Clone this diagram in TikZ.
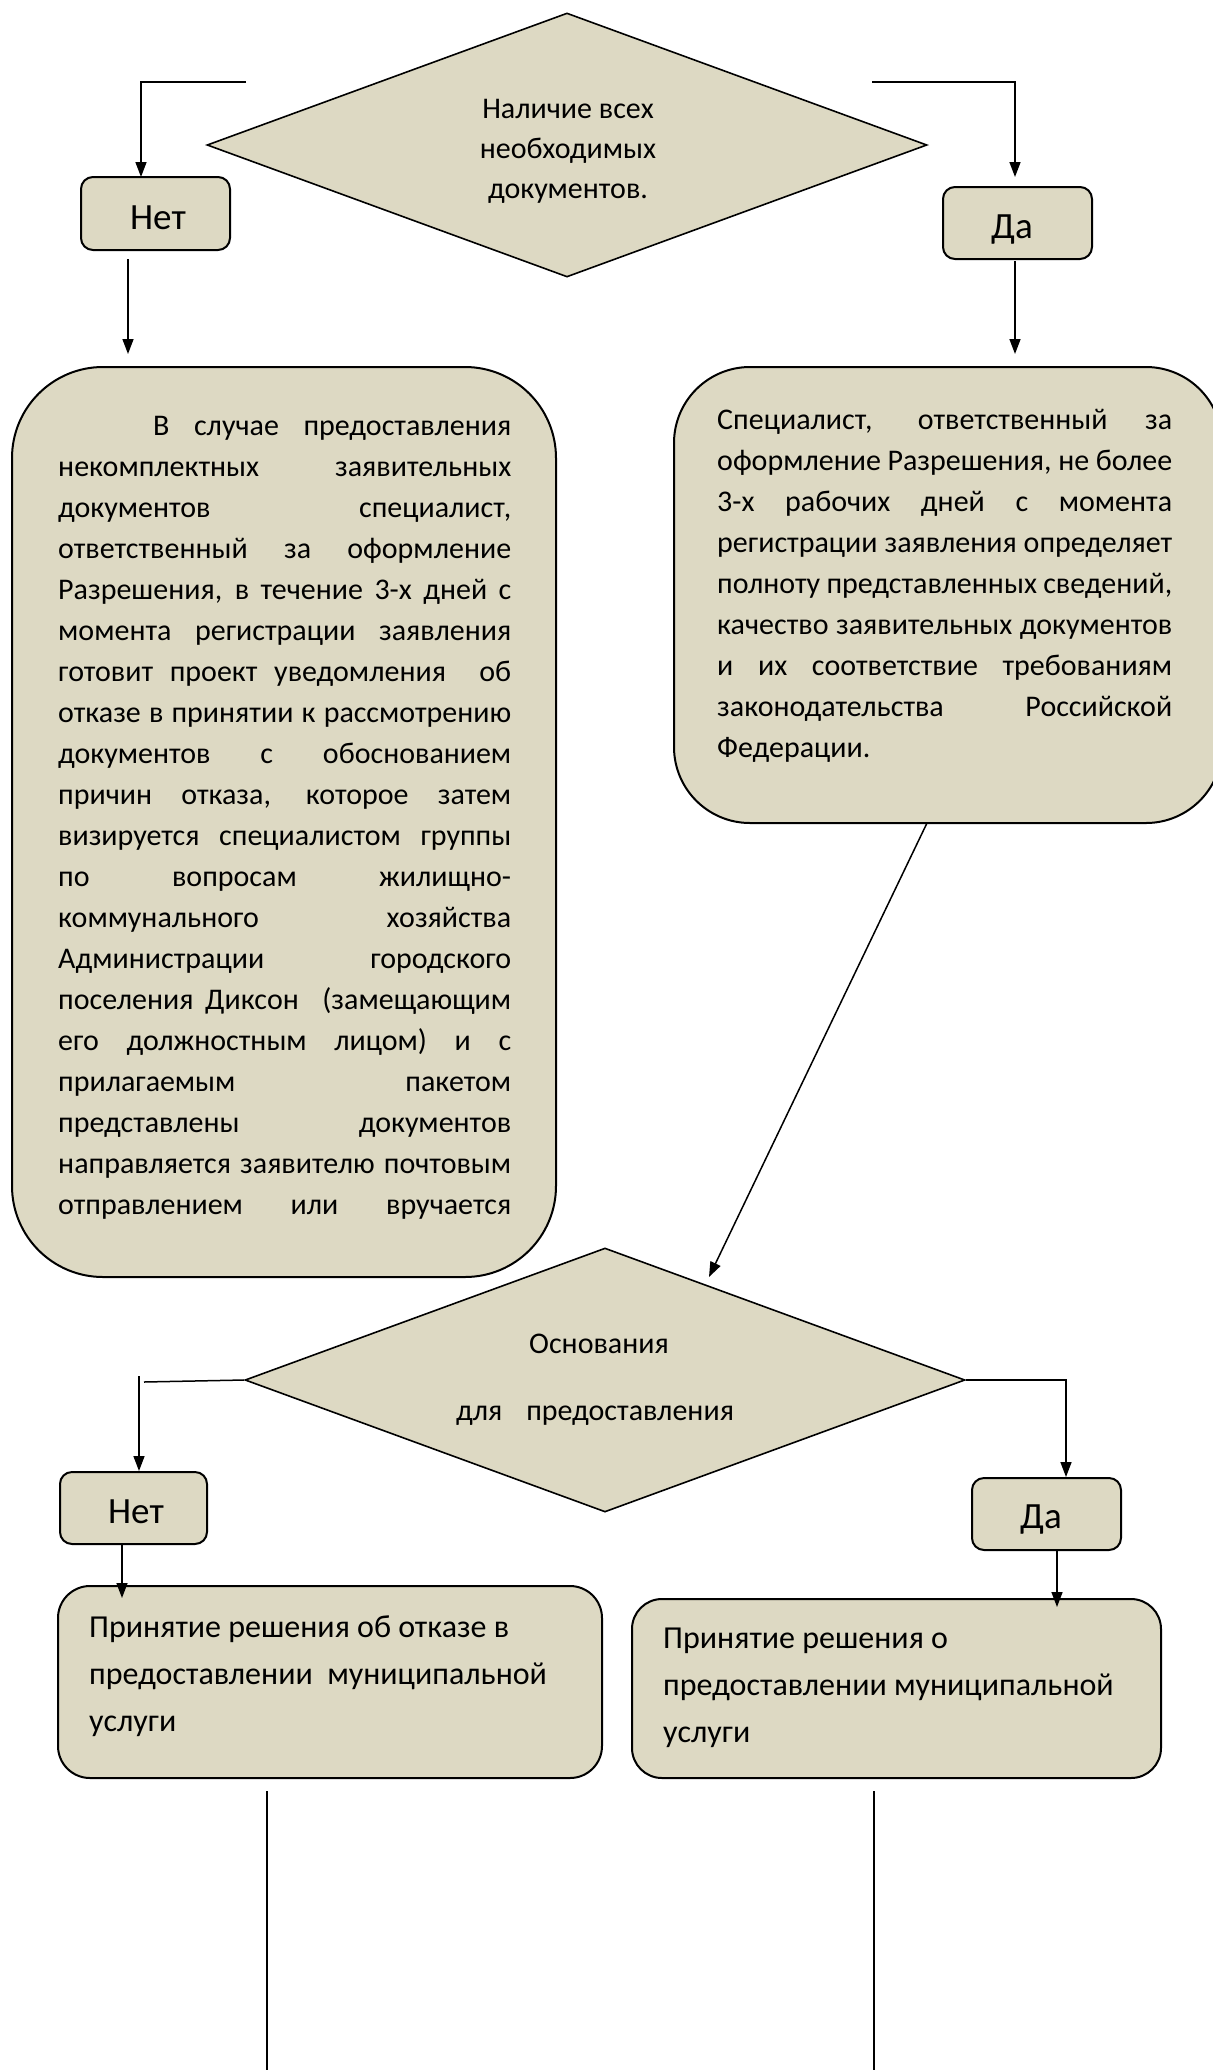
\documentclass[tikz,border=0pt]{standalone}
\usepackage{fontspec}
\setmainfont{Carlito}
\usetikzlibrary{shapes.geometric,arrows.meta}
\definecolor{tanbg}{HTML}{DDD9C3}
\newcommand\myline[4]{\node[lt,anchor=base west] (#1) at (#2) {\makebox[#3][s]{#4}};}
\begin{document}
\begin{tikzpicture}[x=1pt,y=-1pt,
  box/.style={draw=black,line width=2pt,fill=tanbg,rectangle,inner sep=0pt},
  dia/.style={draw=black,line width=1.6pt,fill=tanbg,diamond,inner sep=0pt,minimum width=720pt,minimum height=264pt},
  conn/.style={line width=1.5pt,draw=black},
  arr/.style={conn,-{Triangle[length=15pt,width=11pt]}},
  lt/.style={inner sep=0pt,font=\fontsize{30}{41}\selectfont},
  ct/.style={inner sep=0pt,anchor=base,font=\fontsize{30}{40}\selectfont},
  yn/.style={inner sep=0pt,anchor=base,font=\fontsize{37}{40}\selectfont},
  bt/.style={inner sep=0pt,anchor=base west,font=\fontsize{32}{47}\selectfont}]
\useasboundingbox (0,0) rectangle (1213,2070);

% shapes
\node[dia] (d1) at (567,145) {};
\node[box,rounded corners=12pt,minimum width=149pt,minimum height=73pt] (net1) at (155.5,213.5) {};
\node[box,rounded corners=12pt,minimum width=149pt,minimum height=72pt] (da1) at (1017.5,223) {};
\node[box,rounded corners=91pt,minimum width=544pt,minimum height=910pt] (L) at (284,822) {};
\node[box,rounded corners=76pt,minimum width=548pt,minimum height=456pt] (R) at (948,595) {};
\node[dia] (d2) at (605,1380) {};
\node[box,rounded corners=12pt,minimum width=147pt,minimum height=72pt] (net2) at (133.5,1508) {};
\node[box,rounded corners=12pt,minimum width=149pt,minimum height=72pt] (da2) at (1046.5,1514) {};
\node[box,rounded corners=32pt,minimum width=544pt,minimum height=192pt] (B1) at (330,1682) {};
\node[box,rounded corners=30pt,minimum width=529pt,minimum height=179pt] (B2) at (896.5,1688.5) {};

% texts
\node[ct] (t1a) at (568,118) {Наличие всех};
\node[ct] (t1b) at (568,158) {необходимых};
\node[ct] (t1c) at (568,198) {документов.};
\node[yn] (tn1) at (158,229) {Нет};
\node[yn] (td1) at (1012,238) {Да};

\node[lt,anchor=base west] (L1) at (153,435) {\makebox[358pt][s]{В случае предоставления}};
\myline{L2}{58,476}{453pt}{некомплектных заявительных}
\myline{L3}{58,517}{453pt}{документов специалист,}
\myline{L4}{58,558}{453pt}{ответственный за оформление}
\myline{L5}{58,599}{453pt}{Разрешения, в течение 3-х дней с}
\myline{L6}{58,640}{453pt}{момента регистрации заявления}
\myline{L7}{58,681}{453pt}{готовит проект уведомления~ об}
\myline{L8}{58,722}{453pt}{отказе в принятии к рассмотрению}
\myline{L9}{58,763}{453pt}{документов с обоснованием}
\myline{L10}{58,804}{453pt}{причин отказа, которое затем}
\myline{L11}{58,845}{453pt}{визируется специалистом группы}
\myline{L12}{58,886}{453pt}{по вопросам жилищно-}
\myline{L13}{58,927}{453pt}{коммунального хозяйства}
\myline{L14}{58,968}{453pt}{Администрации городского}
\myline{L15}{58,1009}{453pt}{поселения Диксон~ (замещающим}
\myline{L16}{58,1050}{453pt}{его должностным лицом) и с}
\myline{L17}{58,1091}{453pt}{прилагаемым пакетом}
\myline{L18}{58,1132}{453pt}{представлены документов}
\myline{L19}{58,1173}{453pt}{направляется заявителю почтовым}
\myline{L20}{58,1214}{453pt}{отправлением или вручается}

\myline{R1}{717,429}{455pt}{Специалист, ответственный за}
\myline{R2}{717,470}{455pt}{оформление Разрешения, не более}
\myline{R3}{717,511}{455pt}{3-х рабочих дней с момента}
\myline{R4}{717,552}{455pt}{регистрации заявления определяет}
\myline{R5}{717,593}{455pt}{полноту представленных сведений,}
\myline{R6}{717,634}{455pt}{качество заявительных документов}
\myline{R7}{717,675}{455pt}{и их соответствие требованиям}
\myline{R8}{717,716}{455pt}{законодательства Российской}
\node[lt,anchor=base west] (R9) at (717,757) {Федерации.};

\node[ct] (t2a) at (599,1353) {Основания};
\node[ct] (t2b) at (595,1420) {для\hspace*{24pt}предоставления};
\node[yn] (tn2) at (136,1523) {Нет};
\node[yn] (td2) at (1041,1528) {Да};

\node[bt] (B1a) at (89,1637) {Принятие решения об отказе в};
\node[bt] (B1b) at (89,1684) {предоставлении\ \ муниципальной};
\node[bt] (B1c) at (89,1731) {услуги};
\node[bt] (B2a) at (663,1648) {Принятие решения о};
\node[bt] (B2b) at (663,1695) {предоставлении муниципальной};
\node[bt] (B2c) at (663,1742) {услуги};

% connectors
\coordinate (a1) at (246,82);
\coordinate (a1e) at (141,177);
\draw[arr] (a1) -| (a1e);
\coordinate (a2) at (872,82);
\coordinate (a2e) at (1015,177);
\draw[arr] (a2) -| (a2e);
\coordinate (a3) at (128,259);
\coordinate (a3e) at (128,354);
\draw[arr] (a3) -- (a3e);
\coordinate (a4) at (1015,261);
\coordinate (a4e) at (1015,354);
\draw[arr] (a4) -- (a4e);
\coordinate (e1) at (927,823);
\coordinate (e1e) at (709,1277);
\draw[arr] (e1) -- (e1e);
\coordinate (b1) at (144,1382);
\draw[conn] (d2.west) -- (b1);
\coordinate (b1v) at (139,1376);
\draw[arr] (b1v) -- (b1v |- net2.north);
\coordinate (b2x) at (1066,1382);
\draw[arr] (d2.east) -| (b2x |- da2.north);
\coordinate (c1) at (122,1544);
\coordinate (c1e) at (122,1598);
\draw[arr] (c1) -- (c1e);
\coordinate (c2) at (1057,1550);
\coordinate (c2e) at (1057,1607);
\draw[arr] (c2) -- (c2e);
\coordinate (f1) at (267,1791);
\coordinate (f1e) at (267,2075);
\draw[conn,line width=1.2pt] (f1) -- (f1e);
\coordinate (f2) at (874,1791);
\coordinate (f2e) at (874,2075);
\draw[conn,line width=1.2pt] (f2) -- (f2e);
\end{tikzpicture}
\end{document}
